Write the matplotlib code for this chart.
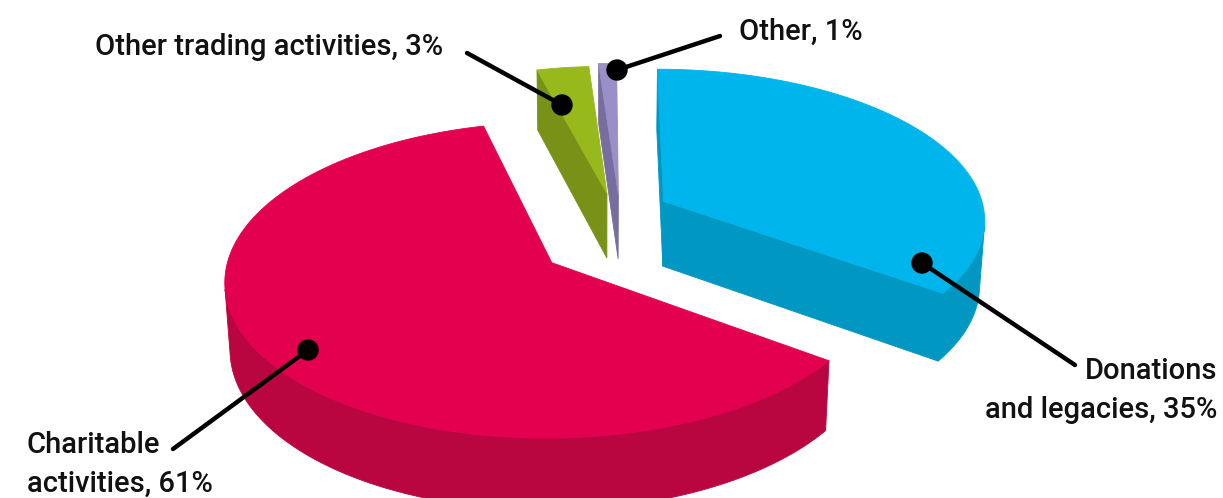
import numpy as np
import matplotlib
matplotlib.use("Agg")
import matplotlib.pyplot as plt
from matplotlib.patches import Polygon, Circle

# ---- data ----
labels = ["Donations\nand legacies", "Other", "Other trading activities", "Charitable\nactivities"]
values = [35, 1, 3, 61]
top_colors = ["#00B5EB", "#9A8FC6", "#98B91B", "#E3004F"]
side_colors = ["#0097C2", "#786D9F", "#789217", "#B90640"]

# ---- style / geometry ----
explode_xy = [(0.20, 0.191), (0.058, 0.24), (0.022, 0.245), (-0.145, -0.209)]
radius = [1.0, 1.0, 0.97, 0.975]
start_angle = -36.0
S, D, SIN_E = 325.0, 8.0, 0.47
COS_E = np.sqrt(1 - SIN_E ** 2)
THICK = 0.232
CX, CY = 600.0, 230.0

names = [f"{l}, {v}%" for l, v in zip(labels, values)]
label_text_xy = [(1217, 379, "right"), (739, 40, "left"), (95, 55, "left"), (27, 453, "left")]
leader_from = [(1075, 365), (720, 36), (467, 53), (173, 449)]
leader_dot = [(922, 263), (617, 70), (562, 105), (308, 350)]


def proj(x, y, z):
    x = np.asarray(x, float); y = np.asarray(y, float); z = np.asarray(z, float)
    depth = D + y * COS_E - z * SIN_E
    px = CX + S * D * x / depth
    py = CY - S * D * (y * SIN_E + z * COS_E) / depth
    return px, py


cam = np.array([0.0, -D * COS_E, D * SIN_E])

fig = plt.figure(figsize=(12.23, 4.98), dpi=100)
ax = fig.add_axes([0, 0, 1, 1])
ax.set_xlim(0, 1223)
ax.set_ylim(498, 0)
ax.axis("off")

total = float(sum(values))
angles = []
a = start_angle
for v in values:
    b = a + 360.0 * v / total
    angles.append((a, b))
    a = b


def poly(xs, ys, color, z):
    ax.add_patch(Polygon(np.column_stack([xs, ys]), closed=True, facecolor=color,
                         edgecolor=color, linewidth=0.6, joinstyle="round", zorder=z))


order = sorted(range(len(values)),
               key=lambda i: -(explode_xy[i][1] + 0.5 * np.sin(np.radians(sum(angles[i]) / 2))))

for rank, i in enumerate(order):
    a1, b1 = angles[i]
    ox, oy = explode_xy[i]
    R = radius[i]
    zb = 2 + rank * 3
    th = np.radians(np.linspace(a1, b1, 400))
    # radial cut faces
    for ang, first in ((a1, True), (b1, False)):
        t = np.radians(ang)
        n = np.array([np.sin(t), -np.cos(t)]) if first else np.array([-np.sin(t), np.cos(t)])
        P = np.array([ox + 0.5 * R * np.cos(t), oy + 0.5 * R * np.sin(t)])
        if n @ (cam[:2] - P) > 0:
            xs = [ox, ox + R * np.cos(t), ox + R * np.cos(t), ox]
            ys = [oy, oy + R * np.sin(t), oy + R * np.sin(t), oy]
            zs = [0, 0, -THICK, -THICK]
            px, py = proj(xs, ys, zs)
            poly(px, py, side_colors[i], zb)
    # outer side band
    vis = -R - ox * np.cos(th) - (D * COS_E + oy) * np.sin(th) > 0
    if vis.any():
        idx = np.where(vis)[0]
        runs = np.split(idx, np.where(np.diff(idx) > 1)[0] + 1)
        for r in runs:
            tt = th[r]
            xs = np.concatenate([ox + R * np.cos(tt), ox + R * np.cos(tt[::-1])])
            ys = np.concatenate([oy + R * np.sin(tt), oy + R * np.sin(tt[::-1])])
            zs = np.concatenate([np.zeros(len(tt)), -THICK * np.ones(len(tt))])
            px, py = proj(xs, ys, zs)
            poly(px, py, side_colors[i], zb + 1)
    # top face
    xs = np.concatenate([[ox], ox + R * np.cos(th)])
    ys = np.concatenate([[oy], oy + R * np.sin(th)])
    px, py = proj(xs, ys, np.zeros(len(xs)))
    poly(px, py, top_colors[i], zb + 2)

for i in range(len(values)):
    (tx, ty, ha) = label_text_xy[i]
    for k, line in enumerate(names[i].split("\n")):
        ax.text(tx, ty + 39 * k, line, ha=ha, va="baseline", fontsize=21,
                family=["Roboto", "DejaVu Sans"], fontweight="medium",
                color="#111111", zorder=30)
    (x0, y0), (x1, y1) = leader_from[i], leader_dot[i]
    ax.plot([x0, x1], [y0, y1], color="black", lw=3.2, solid_capstyle="round", zorder=31)
    ax.add_patch(Circle((x1, y1), 10, color="black", zorder=32))

fig.savefig("out.png", dpi=100)
